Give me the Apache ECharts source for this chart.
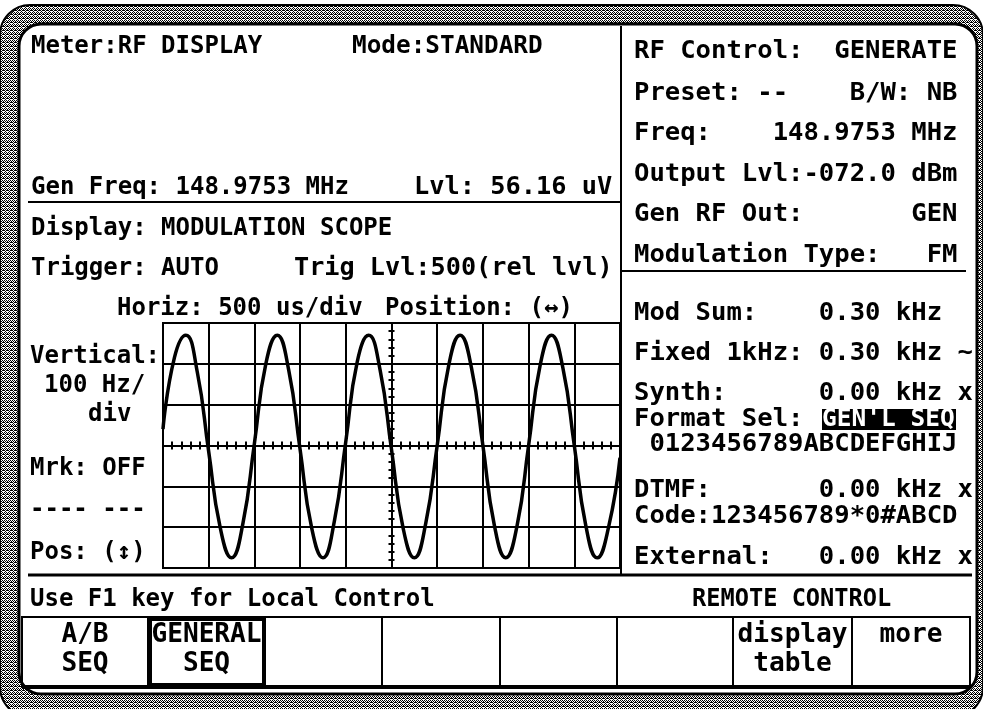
<!DOCTYPE html>
<html>
<head>
<meta charset="utf-8">
<title>Modulation Scope</title>
<script src="https://cdn.jsdelivr.net/npm/echarts@6/dist/echarts.min.js"></script>
<style>
  html, body { margin: 0; padding: 0; background: #fff; }
  #chart { width: 983px; height: 709px; }
</style>
</head>
<body>
<div id="chart"></div>
<script>
// scope trace: time (us, trigger at centre) and deviation (Hz)
const timeUs = [
  -2500, -2375, -2250, -2125, -2000, -1875, -1750, -1625,
  -1500, -1375, -1250, -1125, -1000, -875, -750, -625,
  -500, -375, -250, -125, 0, 125, 250, 375,
  500, 625, 750, 875, 1000, 1125, 1250, 1375,
  1500, 1625, 1750, 1875, 2000, 2125, 2250, 2375, 2500
];
const deviationHz = [
  40, 215, 270, 180, -15, -200, -275, -190,
  5, 200, 270, 185, -10, -200, -275, -185,
  10, 205, 270, 185, -10, -200, -275, -190,
  0, 195, 270, 190, 0, -195, -275, -195,
  0, 195, 270, 190, 0, -195, -275, -200, -30
];

// screen texts
const meterTexts = ['Meter:RF DISPLAY', 'Mode:STANDARD', 'Gen Freq: 148.9753 MHz', 'Lvl: 56.16 uV'];
const scopeTexts = ['Display: MODULATION SCOPE', 'Trigger: AUTO', 'Trig Lvl:500(rel lvl)', 'Horiz: 500 us/div', 'Position: (\u2194)'];
const sideTexts = ['Vertical:', '100 Hz/', 'div', 'Mrk: OFF', '---- ---', 'Pos: (\u2195)'];
const rfTexts = [
  'RF Control:  GENERATE', 'Preset: --    B/W: NB', 'Freq:    148.9753 MHz',
  'Output Lvl:-072.0 dBm', 'Gen RF Out:       GEN', 'Modulation Type:   FM'
];
const modTexts = [
  'Mod Sum:    0.30 kHz', 'Fixed 1kHz: 0.30 kHz ~', 'Synth:      0.00 kHz x',
  'Format Sel:', ' 0123456789ABCDEFGHIJ', 'DTMF:       0.00 kHz x',
  'Code:123456789*0#ABCD', 'External:   0.00 kHz x'
];
const formatSel = "GEN'L SEQ";
const statusTexts = ['Use F1 key for Local Control', 'REMOTE CONTROL'];
const softKeys = [['A/B', 'SEQ'], ['GENERAL', 'SEQ'], ['', ''], ['', ''], ['', ''], ['', ''], ['display', 'table'], ['more', '']];

const FONT = 'bold 24px "DejaVu Sans Mono", "Liberation Mono", monospace';
const INK = '#000';

function ditherPattern() {
  const c = document.createElement('canvas');
  c.width = 4; c.height = 4;
  const g = c.getContext('2d');
  g.fillStyle = '#fff';
  g.fillRect(0, 0, 4, 4);
  g.fillStyle = '#000';
  [[0,0],[2,0],[1,1],[3,1],[0,2],[2,2],[3,2],[1,3]].forEach(p => g.fillRect(p[0], p[1], 1, 1));
  return { image: c, repeat: 'repeat' };
}

function txt(str, x, y, opts) {
  opts = opts || {};
  return {
    type: 'text', x: x, y: y, z: 20,
    scaleX: opts.sx || 1, scaleY: opts.sy || 1,
    style: {
      text: str, font: FONT, fill: opts.fill || INK,
      textAlign: opts.align || 'left', textVerticalAlign: 'middle'
    }
  };
}
function hline(x1, x2, y, w) {
  return { type: 'line', z: 15, shape: { x1: x1, y1: y, x2: x2, y2: y }, style: { stroke: INK, lineWidth: w || 2 } };
}
function vline(x, y1, y2, w) {
  return { type: 'line', z: 15, shape: { x1: x, y1: y1, x2: x, y2: y2 }, style: { stroke: INK, lineWidth: w || 2 } };
}

const chart = echarts.init(document.getElementById('chart'), null, { renderer: 'canvas' });

const graphics = [];
// bezel
graphics.push({ type: 'rect', z: -20, shape: { x: 0, y: 5, width: 983, height: 712, r: 30 }, style: { fill: ditherPattern(), stroke: INK, lineWidth: 2 } });
graphics.push({ type: 'rect', z: -19, shape: { x: 19, y: 24, width: 958, height: 670, r: 22 }, style: { fill: '#fff', stroke: INK, lineWidth: 3 } });

// panel dividers
graphics.push(hline(28, 621, 202));
graphics.push(vline(621, 26, 576));
graphics.push(hline(621, 966, 271));
graphics.push(hline(28, 972, 575, 3));

// left panel
graphics.push(txt(meterTexts[0], 31, 47));
graphics.push(txt(meterTexts[1], 352, 47, { sx: 1.015 }));
graphics.push(txt(meterTexts[2], 31, 188));
graphics.push(txt(meterTexts[3], 414, 188, { sx: 1.055 }));
graphics.push(txt(scopeTexts[0], 31, 229));
graphics.push(txt(scopeTexts[1], 31, 269));
graphics.push(txt(scopeTexts[2], 294, 269, { sx: 1.05 }));
graphics.push(txt(scopeTexts[3], 117, 309));
graphics.push(txt(scopeTexts[4], 385, 309));
const sideX = [30, 44, 88, 30, 30, 30];
const sideY = [357, 386, 415, 469, 510, 553];
sideTexts.forEach((s, i) => graphics.push(txt(s, sideX[i], sideY[i])));

// right panel
const rfY = [52, 94, 134, 175, 215, 256];
rfTexts.forEach((s, i) => graphics.push(txt(s, 634, rfY[i], { sx: 1.066 })));
const modY = [314, 354, 394, 420, 445, 491, 517, 558];
modTexts.forEach((s, i) => graphics.push(txt(s, 634, modY[i], { sx: 1.066 })));

// highlighted format selection
graphics.push({ type: 'rect', z: 18, shape: { x: 822, y: 409, width: 134, height: 21 }, style: { fill: INK } });
graphics.push(txt(formatSel, 822, 420, { fill: '#fff', sx: 1.02 }));

graphics.push(txt(statusTexts[0], 30, 600));
graphics.push(txt(statusTexts[1], 692, 600, { sx: 0.985 }));

// soft keys
const keyEdges = [22, 148, 265, 382, 500, 617, 733, 852, 970];
graphics.push({ type: 'rect', z: 15, shape: { x: 22, y: 617, width: 948, height: 70 }, style: { fill: 'none', stroke: INK, lineWidth: 2 } });
graphics.push(hline(22, 970, 687, 4));
softKeys.forEach((k, i) => {
  const x0 = keyEdges[i], x1 = keyEdges[i + 1];
  if (i > 0) graphics.push(vline(x0, 617, 687, 2));
  const cx = (x0 + x1) / 2;
  if (k[0]) graphics.push(txt(k[0], cx, 635, { align: 'center', sx: 1.09, sy: 1.1 }));
  if (k[1]) graphics.push(txt(k[1], cx, 664, { align: 'center', sx: 1.09, sy: 1.1 }));
});
// selected key
graphics.push({ type: 'rect', z: 16, shape: { x: 150, y: 619, width: 114, height: 66 }, style: { fill: 'none', stroke: INK, lineWidth: 4 } });

const blackLine = { color: INK, width: 2 };

function timeAxis(pos) {
  return {
    type: 'value', min: -2500, max: 2500, interval: 500, position: pos, z: 5,
    axisLine: { show: true, onZero: true, lineStyle: blackLine },
    axisTick: { show: true, length: 4, lineStyle: blackLine },
    minorTick: { show: true, splitNumber: 5, length: 4, lineStyle: blackLine },
    axisLabel: { show: false },
    splitLine: { show: pos === 'bottom', lineStyle: blackLine },
    minorSplitLine: { show: false }
  };
}
function devAxis(pos) {
  return {
    type: 'value', min: -300, max: 300, interval: 100, position: pos, z: 5,
    axisLine: { show: true, onZero: true, lineStyle: blackLine },
    axisTick: { show: true, length: 3, lineStyle: blackLine },
    minorTick: { show: true, splitNumber: 5, length: 3, lineStyle: blackLine },
    axisLabel: { show: false },
    splitLine: { show: pos === 'left', lineStyle: blackLine }
  };
}

const option = {
  animation: false,
  backgroundColor: '#fff',
  grid: {
    left: 163, top: 323, width: 457, height: 245, z: 5,
    show: true, borderColor: INK, borderWidth: 2, backgroundColor: 'transparent'
  },
  xAxis: [timeAxis('bottom'), timeAxis('top')],
  yAxis: [devAxis('left'), devAxis('right')],
  series: [{
    type: 'line',
    xAxisIndex: 0, yAxisIndex: 0,
    data: timeUs.map((t, i) => [t, deviationHz[i]]),
    showSymbol: false,
    smooth: 0.5,
    clip: true,
    lineStyle: { color: INK, width: 3.5 },
    z: 8
  }],
  graphic: { elements: graphics }
};

chart.setOption(option);
</script>
</body>
</html>
